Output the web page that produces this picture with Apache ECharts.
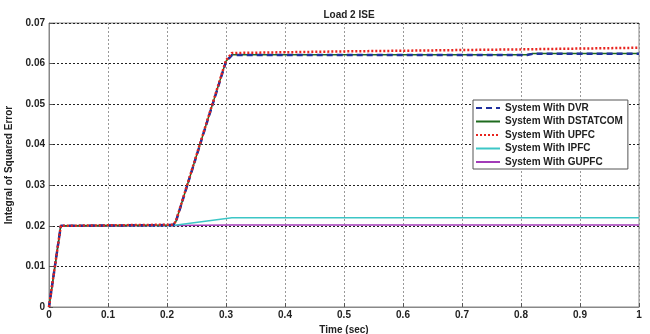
<!DOCTYPE html>
<html>
<head>
<meta charset="utf-8">
<script src="https://cdn.jsdelivr.net/npm/echarts@6/dist/echarts.min.js"></script>
<style>
  html, body { margin: 0; padding: 0; background: #fff; }
  #main { width: 650px; height: 334px; }
</style>
</head>
<body>
<div id="main"></div>
<script>
  // values (time in sec, ISE)
  const dvr = [[0, 0], [0.02, 0.0200], [0.21, 0.0202], [0.215, 0.0210], [0.30, 0.0605], [0.31, 0.0621], [0.81, 0.0621], [0.82, 0.0624], [1, 0.0624]];
  const dstatcom = [[0, 0], [0.02, 0.0200], [0.21, 0.0202], [0.215, 0.0210], [0.30, 0.0606], [0.31, 0.0622], [0.81, 0.0622], [0.82, 0.0625], [1, 0.0625]];
  const upfc = [[0, 0], [0.02, 0.0200], [0.21, 0.0203], [0.215, 0.0211], [0.30, 0.0608], [0.31, 0.0626], [0.5, 0.0630], [0.8, 0.0635], [1, 0.0639]];
  const ipfc = [[0, 0], [0.02, 0.0200], [0.21, 0.0201], [0.31, 0.0220], [1, 0.0220]];
  const gupfc = [[0, 0], [0.02, 0.0200], [0.21, 0.0201], [0.31, 0.0202], [1, 0.0202]];
  const names = ['System With DVR', 'System With DSTATCOM', 'System With UPFC', 'System With IPFC', 'System With GUPFC'];

  const chart = echarts.init(document.getElementById('main'));
  const font = {fontFamily: 'Arial, "Liberation Sans", sans-serif', fontWeight: 'bold', color: '#222'};

  const line = (name, data, color, type, width) => ({
    name: name,
    type: 'line',
    data: data,
    symbol: 'none',
    animation: false,
    lineStyle: {color: color, type: type, width: width},
    itemStyle: {color: color}
  });

  chart.setOption({
    title: {
      text: 'Load 2 ISE',
      left: 344, top: 5, textAlign: 'center',
      textStyle: Object.assign({fontSize: 10}, font)
    },
    grid: {
      left: 49, right: 11, top: 23, bottom: 27,
      containLabel: false, outerBoundsMode: 'none',
      show: true, borderColor: '#888', borderWidth: 1
    },
    legend: {
      orient: 'vertical',
      left: 473, top: 100,
      padding: [3, 5, 2, 2],
      itemGap: 3.5,
      itemWidth: 24, itemHeight: 10,
      backgroundColor: '#fff',
      borderColor: '#555', borderWidth: 1,
      itemStyle: {opacity: 0},
      textStyle: Object.assign({fontSize: 10}, font),
      data: names
    },
    xAxis: {
      type: 'value', min: 0, max: 1, interval: 0.1,
      name: 'Time (sec)', nameLocation: 'middle', nameGap: 14,
      nameTextStyle: Object.assign({fontSize: 10}, font),
      axisLine: {lineStyle: {color: '#888'}},
      axisTick: {inside: true, length: 4, lineStyle: {color: '#555'}},
      axisLabel: Object.assign({fontSize: 10, margin: 3, formatter: v => String(+v.toFixed(1))}, font),
      splitLine: {show: true, lineStyle: {color: '#999', type: [2, 2], width: 1}}
    },
    yAxis: {
      type: 'value', min: 0, max: 0.07, interval: 0.01,
      name: 'Integral of Squared Error', nameLocation: 'middle', nameGap: 28,
      nameTextStyle: Object.assign({fontSize: 10}, font),
      axisLine: {show: true, lineStyle: {color: '#888'}},
      axisTick: {show: true, inside: true, length: 4, lineStyle: {color: '#555'}},
      axisLabel: Object.assign({fontSize: 10, margin: 4, formatter: v => String(+v.toFixed(2))}, font),
      splitLine: {show: true, lineStyle: {color: '#222', type: [2, 2], width: 1}}
    },
    series: [
      line(names[4], gupfc, '#a23bb8', 'solid', 1.5),
      line(names[3], ipfc, '#3cc6c6', 'solid', 1.5),
      line(names[1], dstatcom, '#1e6b1e', 'solid', 1.5),
      line(names[0], dvr, '#1f2f9e', [6, 4], 2.5),
      line(names[2], upfc, '#e8241e', [2, 2], 2.5)
    ]
  });
</script>
</body>
</html>
